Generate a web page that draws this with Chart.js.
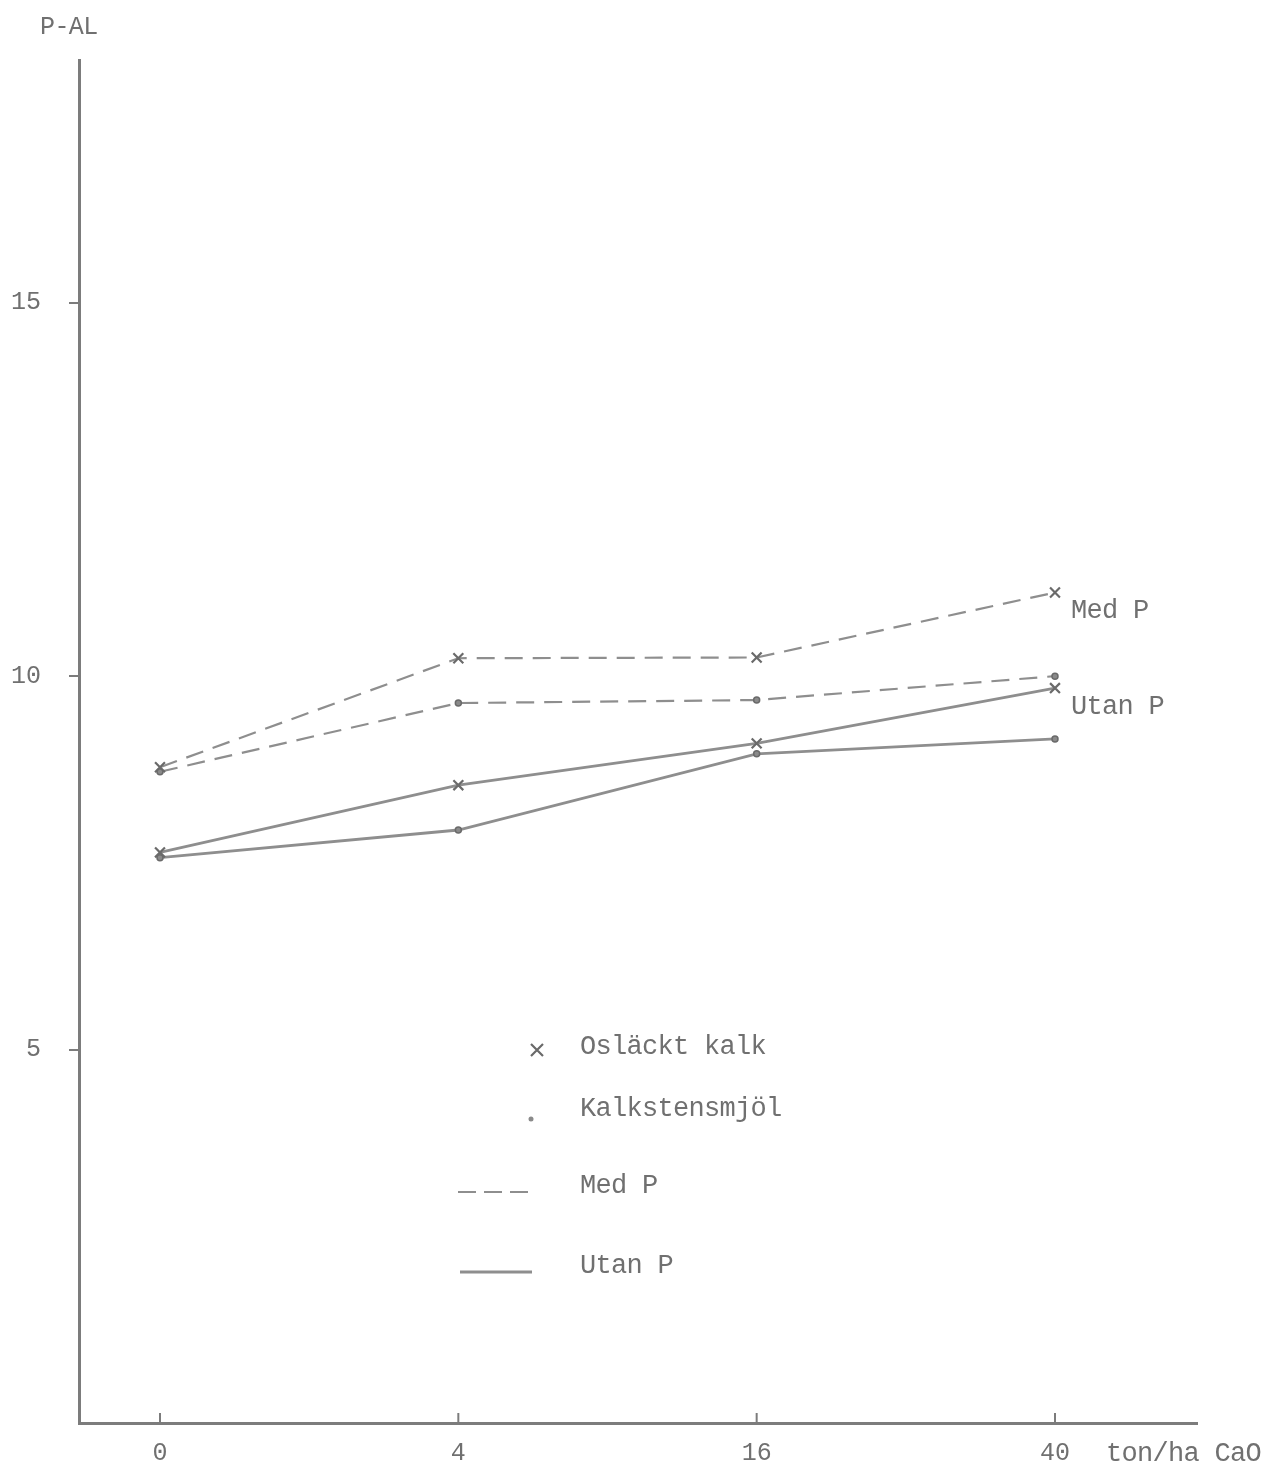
<!DOCTYPE html>
<html><head><meta charset="utf-8">
<script src="https://cdn.jsdelivr.net/npm/chart.js@4/dist/chart.umd.min.js"></script>
<style>
body{margin:0;background:#fff;}
#wrap{position:relative;width:1269px;height:1469px;overflow:hidden;}
canvas{position:absolute;left:0;top:0;}
.t{position:absolute;font-family:"Liberation Mono","DejaVu Sans Mono",monospace;color:#707070;white-space:nowrap;line-height:1;}
.b{font-size:27px;letter-spacing:-0.7px;}
</style></head><body>
<div id="wrap">
<canvas id="c" width="1269" height="1469"></canvas>
<div class="t" style="left:40px;top:15px;font-size:25px;letter-spacing:-0.6px">P-AL</div>
<div class="t b" style="left:1071px;top:598px">Med P</div>
<div class="t b" style="left:1071px;top:694px">Utan P</div>
<div class="t b" style="left:580px;top:1034px">Osläckt kalk</div>
<div class="t b" style="left:580px;top:1096px">Kalkstensmjöl</div>
<div class="t b" style="left:580px;top:1173px">Med P</div>
<div class="t b" style="left:580px;top:1253px">Utan P</div>
<div class="t b" style="left:1106px;top:1441px">ton/ha CaO</div>
</div>
<script>
// ---- data ----
const categories = ['0', '4', '16', '40'];
const oslacktMedP = [8.78, 10.24, 10.25, 11.12];
const kalkMedP = [8.72, 9.64, 9.68, 10.0];
const oslacktUtanP = [7.64, 8.54, 9.1, 9.84];
const kalkUtanP = [7.57, 7.94, 8.96, 9.16];
const yTicks = [5, 10, 15];
const yMax = 18.25;
const xMin = -0.2715, xMax = 3.476;

const lineColor = '#8e8e8e';
const axisColor = '#7c7c7c';
const textColor = '#707070';
const tickFont = {family: '"Liberation Mono","DejaVu Sans Mono",monospace', size: 25};

function pts(arr) { return arr.map((v, i) => ({x: i, y: v})); }

const dashed = [18, 10];
const datasets = [
  {label: 'Osläckt kalk Med P', data: pts(oslacktMedP), borderDash: dashed, borderWidth: 2.2,
   pointStyle: 'crossRot', pointRadius: 7, pointBorderWidth: 2.2},
  {label: 'Kalkstensmjöl Med P', data: pts(kalkMedP), borderDash: dashed, borderWidth: 2.2,
   pointStyle: 'circle', pointRadius: 3, pointBorderWidth: 1.5},
  {label: 'Osläckt kalk Utan P', data: pts(oslacktUtanP), borderWidth: 2.8,
   pointStyle: 'crossRot', pointRadius: 7, pointBorderWidth: 2.2},
  {label: 'Kalkstensmjöl Utan P', data: pts(kalkUtanP), borderWidth: 2.8,
   pointStyle: 'circle', pointRadius: 3, pointBorderWidth: 1.5}
].map(d => Object.assign({borderColor: lineColor, pointBorderColor: '#6a6a6a',
  pointBackgroundColor: '#8a8a8a', fill: false, tension: 0}, d));

const decor = {
  id: 'decor',
  afterDraw(chart) {
    const c = chart.ctx, xs = chart.scales.x, ca = chart.chartArea;
    c.save();
    c.strokeStyle = axisColor; c.lineWidth = 2;
    // upward tick marks on the x axis
    categories.forEach((_, i) => {
      const px = xs.getPixelForValue(i);
      c.beginPath(); c.moveTo(px, ca.bottom - 10); c.lineTo(px, ca.bottom); c.stroke();
    });
    // legend symbols
    c.strokeStyle = '#6a6a6a'; c.lineWidth = 2.2;
    const mx = 537, my = 1050, r = 6;
    c.beginPath(); c.moveTo(mx - r, my - r); c.lineTo(mx + r, my + r);
    c.moveTo(mx + r, my - r); c.lineTo(mx - r, my + r); c.stroke();
    c.fillStyle = '#8a8a8a';
    c.beginPath(); c.arc(531, 1119, 2.5, 0, Math.PI * 2); c.fill();
    c.strokeStyle = lineColor;
    c.setLineDash([18, 8]); c.lineWidth = 2.2;
    c.beginPath(); c.moveTo(458, 1192); c.lineTo(528, 1192); c.stroke();
    c.setLineDash([]); c.lineWidth = 2.8;
    c.beginPath(); c.moveTo(460, 1272); c.lineTo(532, 1272); c.stroke();
    c.restore();
  }
};

new Chart(document.getElementById('c'), {
  type: 'line',
  data: {datasets},
  options: {
    responsive: false, animation: false,
    layout: {padding: {top: 60, right: 72, left: 0, bottom: 0}},
    plugins: {legend: {display: false}, tooltip: {enabled: false}},
    scales: {
      x: {
        type: 'linear', min: xMin, max: xMax,
        afterBuildTicks: s => { s.ticks = categories.map((_, i) => ({value: i})); },
        afterFit: s => { s.height = 46; },
        grid: {display: false, drawTicks: false},
        border: {display: true, color: axisColor, width: 3},
        ticks: {padding: 15, color: textColor, font: tickFont, maxRotation: 0,
                callback: v => categories[v]}
      },
      y: {
        type: 'linear', min: 0, max: yMax,
        afterBuildTicks: s => { s.ticks = yTicks.map(v => ({value: v})); },
        afterFit: s => { s.width = 79; },
        grid: {drawOnChartArea: false, drawTicks: true, tickLength: 10, color: axisColor, lineWidth: 2},
        border: {display: true, color: axisColor, width: 3},
        ticks: {padding: 28, color: textColor, font: tickFont, callback: v => String(v)}
      }
    }
  },
  plugins: [decor]
});
</script>
</body></html>
